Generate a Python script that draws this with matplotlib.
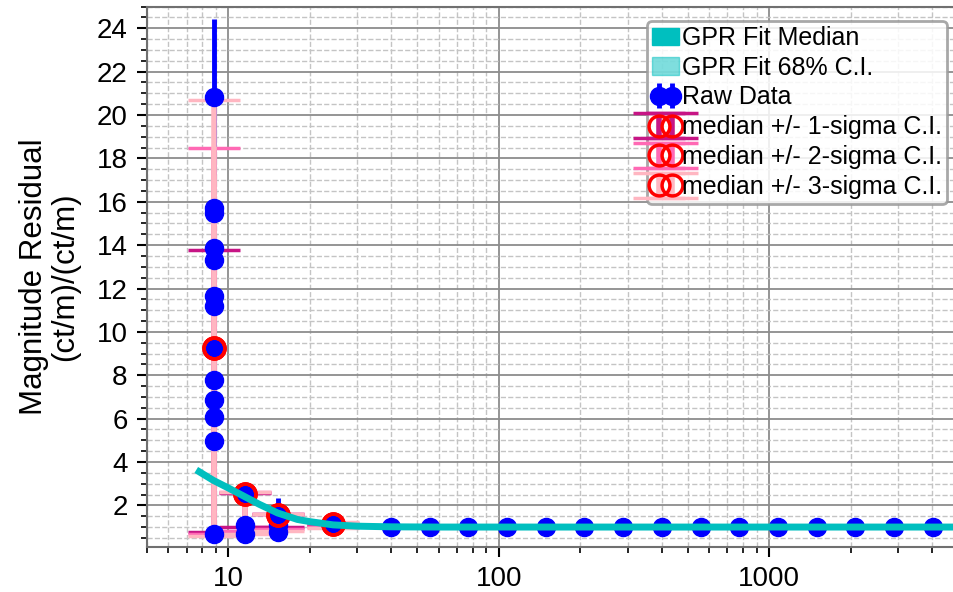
"""
GPR fit of magnitude residual vs. x, with raw data and binned median C.I.s.
"""
import matplotlib

matplotlib.use("Agg")
import matplotlib.pyplot as plt
from matplotlib.patches import Patch
from matplotlib.ticker import FixedLocator, LogLocator, NullFormatter, MultipleLocator

plt.rcParams["font.family"] = ["Liberation Sans", "DejaVu Sans"]

# ---------------------------------------------------------------------------
# Data
# ---------------------------------------------------------------------------

raw_x = (
    [8.83] * 13
    + [11.47] * 3
    + [15.2] * 3
    + [24.4]
    + [40.0, 55.8, 77.2, 107, 149, 207, 288, 401, 558, 775, 1078, 1497, 2080, 2890, 4015]
)
raw_y = (
    [20.83, 15.7, 15.5, 13.88, 13.31, 11.64, 11.18, 9.25, 7.79, 6.86, 6.09, 4.96, 0.66]
    + [2.54, 1.08, 0.70]
    + [1.54, 1.08, 0.75]
    + [1.12]
    + [1.0] * 15
)
raw_err = (
    [3.6, 0.3, 0.3, 0.3, 0.3, 0.3, 0.3, 0.3, 0.3, 0.3, 0.3, 0.3, 0.1]
    + [0.1, 0.1, 0.1]
    + [0.82, 0.1, 0.1]
    + [0.05]
    + [0.02] * 15
)

med_x = [8.83, 11.47, 15.2, 24.4]
med_y = [9.25, 2.54, 1.54, 1.12]
ci1_lo = [0.78, 1.00, 1.00, 1.08]
ci1_hi = [13.78, 2.58, 1.60, 1.15]
ci2_lo = [0.70, 0.80, 0.90, 1.00]
ci2_hi = [18.48, 2.60, 1.62, 1.20]
ci3_lo = [0.60, 0.70, 0.81, 0.97]
ci3_hi = [20.70, 2.62, 1.62, 1.23]

gpr_x = [7.8, 8.8, 10, 11.5, 13, 15.2, 18, 20, 24.4, 30, 40, 60, 100, 1000, 5000]
gpr_y = [3.55, 3.15, 2.8, 2.4, 2.05, 1.65, 1.35, 1.25, 1.1, 1.04, 1.01, 1.0, 1.0, 1.0, 1.0]
gpr_lo = [3.45, 3.05, 2.72, 2.33, 1.99, 1.6, 1.31, 1.21, 1.07, 1.01, 0.98, 0.97, 0.97, 0.97, 0.97]
gpr_hi = [3.65, 3.25, 2.88, 2.47, 2.11, 1.7, 1.39, 1.29, 1.13, 1.07, 1.04, 1.03, 1.03, 1.03, 1.03]

ci_colors = ["mediumvioletred", "hotpink", "lightpink"]
ci_labels = [
    "median +/- 1-sigma C.I.",
    "median +/- 2-sigma C.I.",
    "median +/- 3-sigma C.I.",
]

# ---------------------------------------------------------------------------
# Plot
# ---------------------------------------------------------------------------

fig = plt.figure(figsize=(9.54, 5.92), dpi=100)
ax = fig.add_axes([147 / 954, 1 - 547 / 592, 1 - 147 / 954, (547 - 6.6) / 592])

raw = ax.errorbar(
    raw_x, raw_y, yerr=raw_err, fmt="o", color="blue", ms=13,
    elinewidth=3.5, capsize=0, zorder=2, label="Raw Data",
)
raw[0].set_zorder(4)

ci_handles = []
for lo, hi, col, lab in zip(
    [ci1_lo, ci2_lo, ci3_lo], [ci1_hi, ci2_hi, ci3_hi], ci_colors, ci_labels
):
    yerr = [[m - l for m, l in zip(med_y, lo)], [h - m for m, h in zip(med_y, hi)]]
    eb = ax.errorbar(
        med_x, med_y, yerr=yerr, fmt="o", mfc="none", mec="red", mew=2.5,
        ms=15, ecolor=col, elinewidth=4, capsize=19, capthick=2.2,
        zorder=3, label=lab,
    )
    eb[0].set_zorder(5)
    ci_handles.append(eb)

ax.fill_between(gpr_x, gpr_lo, gpr_hi, color="c", alpha=0.5, lw=0, zorder=6)
ax.plot(gpr_x, gpr_y, color="c", lw=5, zorder=7)

ax.set_xscale("log")
ax.set_xlim(5, 4820)
ax.set_ylim(0.08, 25)

ax.yaxis.set_major_locator(MultipleLocator(2))
ax.yaxis.set_minor_locator(MultipleLocator(0.5))
ax.xaxis.set_major_locator(FixedLocator([10, 100, 1000]))
ax.xaxis.set_minor_locator(LogLocator(base=10, subs=range(2, 10)))
ax.xaxis.set_minor_formatter(NullFormatter())
ax.set_xticklabels(["10", "100", "1000"])
ax.set_yticks(range(2, 25, 2))

ax.grid(which="major", color="#8c8c8c", lw=1.3, ls="-")
ax.grid(which="minor", color="#c4c4c4", lw=1.0, ls="--")
ax.set_axisbelow(True)

ax.tick_params(which="major", direction="out", length=7, width=1.5, labelsize=20, pad=7)
ax.tick_params(which="minor", direction="out", length=4, width=1.2)
for side in ["left", "bottom", "top"]:
    ax.spines[side].set_color("#707070")
    ax.spines[side].set_linewidth(1.5)
ax.spines["right"].set_visible(False)

ax.set_ylabel("Magnitude Residual\n(ct/m)/(ct/m)", fontsize=22.5, linespacing=1.05)
ax.yaxis.set_label_coords(-0.083, 0.5)

handles = [
    Patch(color="c", label="GPR Fit Median"),
    Patch(color="c", alpha=0.5, label="GPR Fit 68% C.I."),
    raw,
] + ci_handles
leg = ax.legend(
    handles=handles, loc="upper right", bbox_to_anchor=(947 / 954, 1 - 21 / 592),
    bbox_transform=fig.transFigure, borderaxespad=0, numpoints=2, fontsize=18,
    handlelength=1.1, handletextpad=0.1, labelspacing=0.23, borderpad=0.2,
    fancybox=True, framealpha=0.85,
)
leg.get_frame().set_edgecolor("#999999")
leg.get_frame().set_linewidth(2)
leg.set_zorder(10)

fig.savefig("out.png", dpi=100)
